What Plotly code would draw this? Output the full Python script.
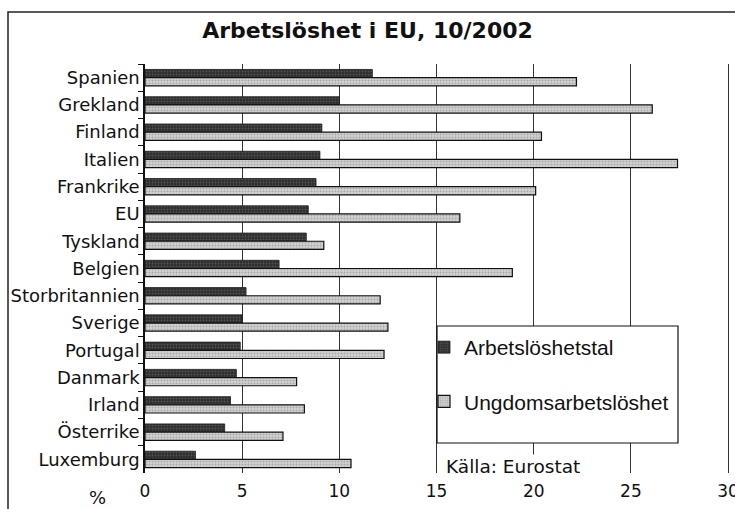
import plotly.graph_objects as go

countries = ["Spanien", "Grekland", "Finland", "Italien", "Frankrike", "EU", "Tyskland",
             "Belgien", "Storbritannien", "Sverige", "Portugal", "Danmark", "Irland",
             "Österrike", "Luxemburg"]
arbetsloshetstal = [11.7, 10.0, 9.1, 9.0, 8.8, 8.4, 8.3, 6.9, 5.2, 5.0, 4.9, 4.7, 4.4, 4.1, 2.6]
ungdomsarbetsloshet = [22.2, 26.1, 20.4, 27.4, 20.1, 16.2, 9.2, 18.9, 12.1, 12.5, 12.3, 7.8, 8.2, 7.1, 10.6]
x_ticks = [0, 5, 10, 15, 20, 25, 30]

fig = go.Figure()
fig.add_trace(go.Bar(
    y=countries, x=arbetsloshetstal, orientation="h", name="Arbetslöshetstal",
    legendgroup="a",
    marker=dict(color="#2e2e2e", line=dict(color="#1a1a1a", width=0.8),
                pattern=dict(shape=".", fgcolor="#777777", size=3, solidity=0.3)),
))
fig.add_trace(go.Bar(
    y=countries, x=ungdomsarbetsloshet, orientation="h", name="Ungdomsarbetslöshet",
    legendgroup="b",
    marker=dict(color="#d2d2d2", line=dict(color="#111111", width=1.2),
                pattern=dict(shape=".", fgcolor="#808080", size=3, solidity=0.35)),
))

W, H = 735, 509
L, R, T, B = 145, 5, 64, 36
pw, ph = W - L - R, H - T - B

def px(x):
    return (x - L) / pw

def py(y):
    return (H - B - y) / ph

fig.update_layout(
    width=W, height=H,
    margin=dict(l=L, r=R, t=T, b=B, autoexpand=False),
    paper_bgcolor="white", plot_bgcolor="white",
    barmode="group", bargap=0.4, bargroupgap=0.0,
    title=dict(text="<b>Arbetslöshet i EU, 10/2002</b>", x=0.5, xanchor="center",
               y=1 - 30 / H, yanchor="middle",
               font=dict(family="DejaVu Sans", size=22, color="#111111")),
    font=dict(family="DejaVu Sans", color="#111111"),
    showlegend=True,
    legend=dict(x=px(424), y=py(327), xanchor="left", yanchor="top",
                bgcolor="rgba(0,0,0,0)", borderwidth=0,
                traceorder="grouped", tracegroupgap=24,
                font=dict(family="Liberation Sans", size=21, color="#111111")),
    xaxis=dict(range=[0, 30.1], tickvals=x_ticks, ticktext=[str(v) for v in x_ticks],
               showgrid=True, gridcolor="#333333", gridwidth=1,
               zeroline=False, showline=False, ticks="", automargin=False,
               ticklabelstandoff=6, ticklabeloverflow="allow",
               tickfont=dict(family="DejaVu Sans", size=17, color="#111111")),
    yaxis=dict(autorange="reversed", showline=True, linecolor="#111111", linewidth=1.5,
               ticks="outside", tickson="boundaries", ticklen=5, tickcolor="#111111",
               showgrid=False, automargin=False,
               tickfont=dict(family="DejaVu Sans", size=18, color="#111111")),
    shapes=[
        dict(type="rect", xref="paper", yref="paper",
             x0=px(8), x1=px(760), y0=py(530), y1=py(12),
             line=dict(color="#222222", width=1.5), fillcolor="rgba(0,0,0,0)", layer="below"),
        dict(type="rect", xref="paper", yref="paper",
             x0=px(437), x1=px(678), y0=py(443), y1=py(326),
             line=dict(color="#111111", width=1.2), fillcolor="white", layer="above"),
    ],
    annotations=[
        dict(text="Källa: Eurostat", xref="paper", yref="paper", x=px(444), y=py(466),
             xanchor="left", yanchor="middle", showarrow=False, bgcolor="white",
             font=dict(family="DejaVu Sans", size=18.5, color="#111111")),
        dict(text="%", xref="paper", yref="paper", x=px(97), y=py(498),
             xanchor="center", yanchor="middle", showarrow=False,
             font=dict(family="DejaVu Sans", size=18, color="#111111")),
    ],
)

fig.write_html("out.html", config={"displayModeBar": False},
               post_script="document.body.style.margin='0';document.body.style.overflow='hidden';")
